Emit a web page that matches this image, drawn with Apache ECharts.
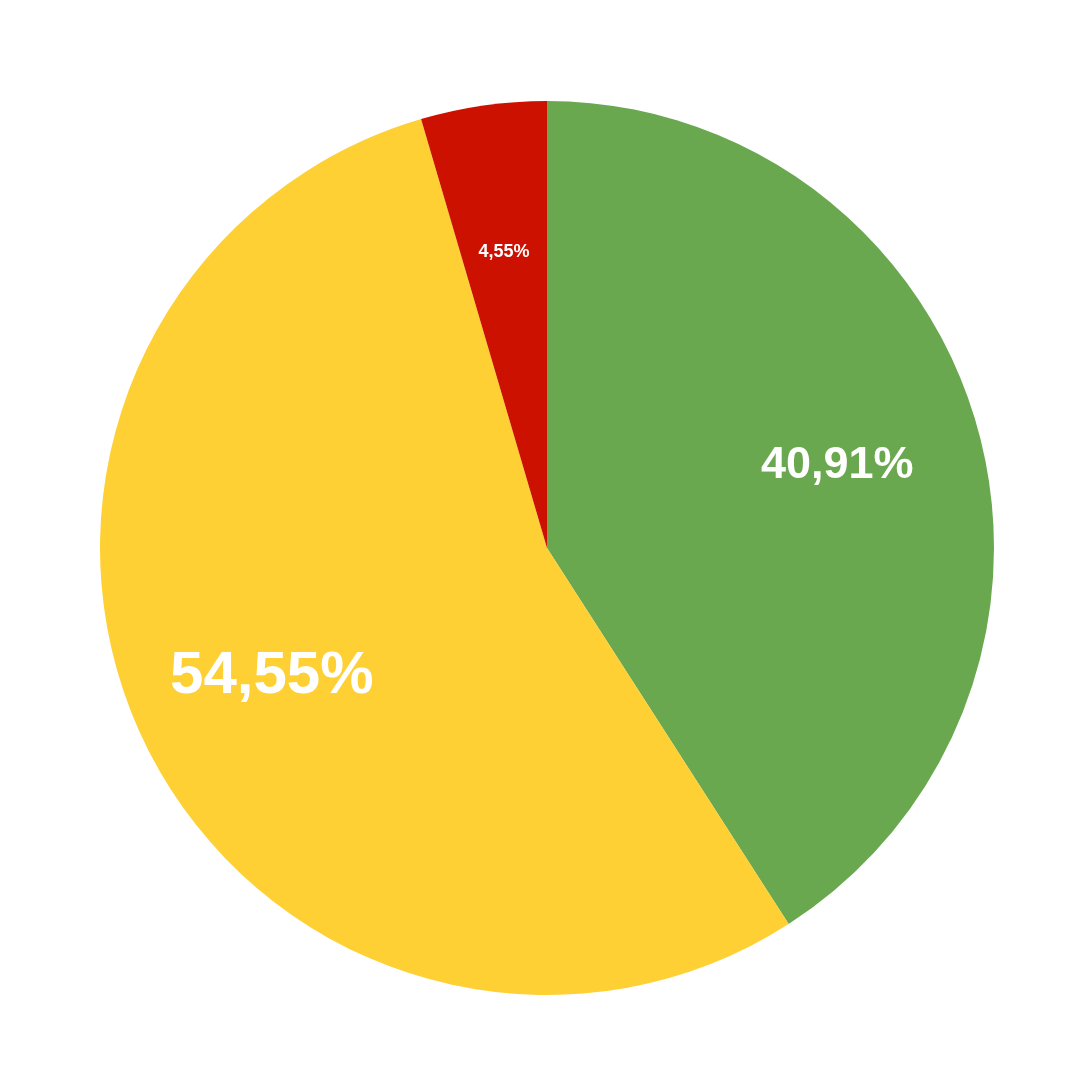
<!DOCTYPE html>
<html><head><meta charset="utf-8">
<script src="https://cdn.jsdelivr.net/npm/echarts@6/dist/echarts.min.js"></script>
<style>html,body{margin:0;padding:0;background:#fff}#c{width:1080px;height:1080px}</style>
</head><body><div id="c"></div>
<script>
const categories = ['A', 'B', 'C'];
const values = [9, 12, 1];
const colors = ['#6aa84f', '#fed033', '#cc1100'];
const labelSizes = [45, 60, 18];

const chart = echarts.init(document.getElementById('c'), null, {renderer: 'canvas'});
const R = 447;
const total = values.reduce((a, b) => a + b, 0);
const fmt = p => (p.value / total * 100).toFixed(2).replace('.', ',') + '%';
chart.setOption({
  animation: false,
  backgroundColor: '#ffffff',
  series: [
    {
      type: 'pie', center: [547, 548], radius: [0, R], startAngle: 90, clockwise: true,
      silent: true, label: {show: false}, labelLine: {show: false},
      itemStyle: {borderWidth: 0},
      data: categories.map((c, i) => ({name: c, value: values[i], itemStyle: {color: colors[i]}}))
    },
    {
      type: 'pie', center: [547, 548], radius: [R * 0.34, R], startAngle: 90, clockwise: true,
      silent: true, labelLine: {show: false},
      itemStyle: {color: 'rgba(0,0,0,0)', borderWidth: 0},
      label: {show: true, position: 'inside', color: '#fff', fontFamily: 'Liberation Sans', fontWeight: 'bold', formatter: fmt, offset: [0, 3]},
      data: categories.map((c, i) => ({name: c, value: values[i], label: {fontSize: labelSizes[i]}}))
    }
  ]
});
</script></body></html>
